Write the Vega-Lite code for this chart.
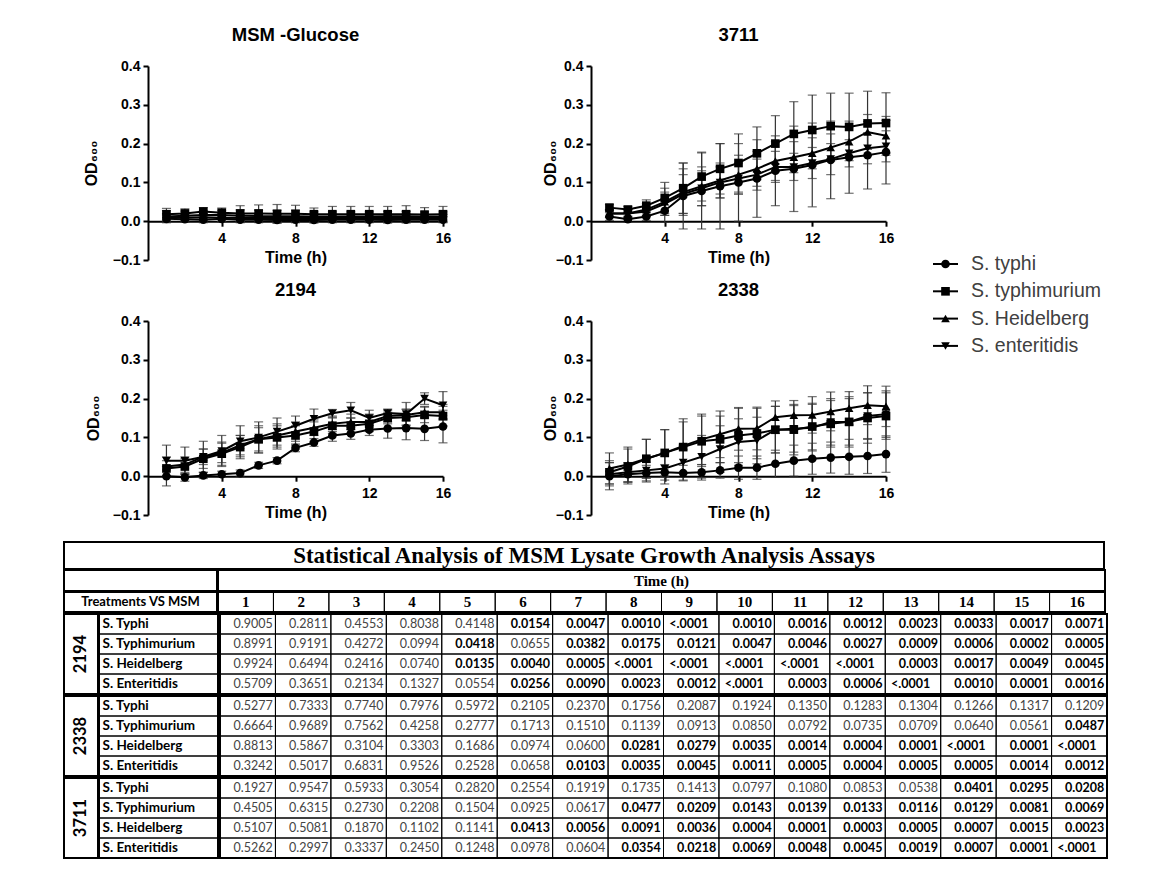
{
"$schema": "https://vega.github.io/schema/vega-lite/v6.json",
"padding": {"left": 63, "top": 25, "right": 5, "bottom": 5},
"background": "white",
"datasets": {
"od": [
{"pn":"G","sp":"S. typhi","t":1,"m":0.006,"e":0.01},{"pn":"G","sp":"S. typhi","t":2,"m":0.005,"e":0.008},{"pn":"G","sp":"S. typhi","t":3,"m":0.004,"e":0.008},{"pn":"G","sp":"S. typhi","t":4,"m":0.006,"e":0.008},{"pn":"G","sp":"S. typhi","t":5,"m":0.004,"e":0.008},{"pn":"G","sp":"S. typhi","t":6,"m":0.004,"e":0.008},{"pn":"G","sp":"S. typhi","t":7,"m":0.003,"e":0.008},{"pn":"G","sp":"S. typhi","t":8,"m":0.004,"e":0.008},{"pn":"G","sp":"S. typhi","t":9,"m":0.003,"e":0.008},{"pn":"G","sp":"S. typhi","t":10,"m":0.004,"e":0.008},{"pn":"G","sp":"S. typhi","t":11,"m":0.004,"e":0.008},{"pn":"G","sp":"S. typhi","t":12,"m":0.004,"e":0.008},{"pn":"G","sp":"S. typhi","t":13,"m":0.003,"e":0.008},{"pn":"G","sp":"S. typhi","t":14,"m":0.004,"e":0.008},{"pn":"G","sp":"S. typhi","t":15,"m":0.004,"e":0.008},{"pn":"G","sp":"S. typhi","t":16,"m":0.004,"e":0.008},
{"pn":"G","sp":"S. typhimurium","t":1,"m":0.018,"e":0.015},{"pn":"G","sp":"S. typhimurium","t":2,"m":0.02,"e":0.012},{"pn":"G","sp":"S. typhimurium","t":3,"m":0.025,"e":0.01},{"pn":"G","sp":"S. typhimurium","t":4,"m":0.022,"e":0.012},{"pn":"G","sp":"S. typhimurium","t":5,"m":0.02,"e":0.02},{"pn":"G","sp":"S. typhimurium","t":6,"m":0.02,"e":0.022},{"pn":"G","sp":"S. typhimurium","t":7,"m":0.019,"e":0.024},{"pn":"G","sp":"S. typhimurium","t":8,"m":0.019,"e":0.022},{"pn":"G","sp":"S. typhimurium","t":9,"m":0.018,"e":0.016},{"pn":"G","sp":"S. typhimurium","t":10,"m":0.018,"e":0.02},{"pn":"G","sp":"S. typhimurium","t":11,"m":0.018,"e":0.02},{"pn":"G","sp":"S. typhimurium","t":12,"m":0.018,"e":0.02},{"pn":"G","sp":"S. typhimurium","t":13,"m":0.018,"e":0.02},{"pn":"G","sp":"S. typhimurium","t":14,"m":0.018,"e":0.022},{"pn":"G","sp":"S. typhimurium","t":15,"m":0.017,"e":0.018},{"pn":"G","sp":"S. typhimurium","t":16,"m":0.018,"e":0.02},
{"pn":"G","sp":"S. Heidelberg","t":1,"m":0.012,"e":0.015},{"pn":"G","sp":"S. Heidelberg","t":2,"m":0.014,"e":0.012},{"pn":"G","sp":"S. Heidelberg","t":3,"m":0.016,"e":0.012},{"pn":"G","sp":"S. Heidelberg","t":4,"m":0.016,"e":0.012},{"pn":"G","sp":"S. Heidelberg","t":5,"m":0.014,"e":0.015},{"pn":"G","sp":"S. Heidelberg","t":6,"m":0.013,"e":0.015},{"pn":"G","sp":"S. Heidelberg","t":7,"m":0.013,"e":0.015},{"pn":"G","sp":"S. Heidelberg","t":8,"m":0.013,"e":0.015},{"pn":"G","sp":"S. Heidelberg","t":9,"m":0.012,"e":0.012},{"pn":"G","sp":"S. Heidelberg","t":10,"m":0.012,"e":0.012},{"pn":"G","sp":"S. Heidelberg","t":11,"m":0.012,"e":0.012},{"pn":"G","sp":"S. Heidelberg","t":12,"m":0.012,"e":0.012},{"pn":"G","sp":"S. Heidelberg","t":13,"m":0.013,"e":0.012},{"pn":"G","sp":"S. Heidelberg","t":14,"m":0.013,"e":0.012},{"pn":"G","sp":"S. Heidelberg","t":15,"m":0.012,"e":0.012},{"pn":"G","sp":"S. Heidelberg","t":16,"m":0.012,"e":0.012},
{"pn":"G","sp":"S. enteritidis","t":1,"m":0.01,"e":0.01},{"pn":"G","sp":"S. enteritidis","t":2,"m":0.009,"e":0.01},{"pn":"G","sp":"S. enteritidis","t":3,"m":0.01,"e":0.01},{"pn":"G","sp":"S. enteritidis","t":4,"m":0.009,"e":0.01},{"pn":"G","sp":"S. enteritidis","t":5,"m":0.008,"e":0.01},{"pn":"G","sp":"S. enteritidis","t":6,"m":0.008,"e":0.01},{"pn":"G","sp":"S. enteritidis","t":7,"m":0.008,"e":0.01},{"pn":"G","sp":"S. enteritidis","t":8,"m":0.008,"e":0.01},{"pn":"G","sp":"S. enteritidis","t":9,"m":0.008,"e":0.01},{"pn":"G","sp":"S. enteritidis","t":10,"m":0.008,"e":0.01},{"pn":"G","sp":"S. enteritidis","t":11,"m":0.008,"e":0.01},{"pn":"G","sp":"S. enteritidis","t":12,"m":0.008,"e":0.01},{"pn":"G","sp":"S. enteritidis","t":13,"m":0.008,"e":0.01},{"pn":"G","sp":"S. enteritidis","t":14,"m":0.008,"e":0.01},{"pn":"G","sp":"S. enteritidis","t":15,"m":0.008,"e":0.01},{"pn":"G","sp":"S. enteritidis","t":16,"m":0.008,"e":0.01},
{"pn":"3711","sp":"S. typhi","t":1,"m":0.012,"e":0.01},{"pn":"3711","sp":"S. typhi","t":2,"m":0.005,"e":0.008},{"pn":"3711","sp":"S. typhi","t":3,"m":0.012,"e":0.01},{"pn":"3711","sp":"S. typhi","t":4,"m":0.027,"e":0.03},{"pn":"3711","sp":"S. typhi","t":5,"m":0.065,"e":0.085},{"pn":"3711","sp":"S. typhi","t":6,"m":0.078,"e":0.098},{"pn":"3711","sp":"S. typhi","t":7,"m":0.09,"e":0.11},{"pn":"3711","sp":"S. typhi","t":8,"m":0.1,"e":0.1},{"pn":"3711","sp":"S. typhi","t":9,"m":0.11,"e":0.1},{"pn":"3711","sp":"S. typhi","t":10,"m":0.13,"e":0.09},{"pn":"3711","sp":"S. typhi","t":11,"m":0.135,"e":0.11},{"pn":"3711","sp":"S. typhi","t":12,"m":0.145,"e":0.108},{"pn":"3711","sp":"S. typhi","t":13,"m":0.158,"e":0.1},{"pn":"3711","sp":"S. typhi","t":14,"m":0.165,"e":0.093},{"pn":"3711","sp":"S. typhi","t":15,"m":0.17,"e":0.087},{"pn":"3711","sp":"S. typhi","t":16,"m":0.178,"e":0.082},
{"pn":"3711","sp":"S. typhimurium","t":1,"m":0.035,"e":0.008},{"pn":"3711","sp":"S. typhimurium","t":2,"m":0.03,"e":0.008},{"pn":"3711","sp":"S. typhimurium","t":3,"m":0.04,"e":0.015},{"pn":"3711","sp":"S. typhimurium","t":4,"m":0.06,"e":0.04},{"pn":"3711","sp":"S. typhimurium","t":5,"m":0.085,"e":0.065},{"pn":"3711","sp":"S. typhimurium","t":6,"m":0.115,"e":0.063},{"pn":"3711","sp":"S. typhimurium","t":7,"m":0.135,"e":0.065},{"pn":"3711","sp":"S. typhimurium","t":8,"m":0.15,"e":0.075},{"pn":"3711","sp":"S. typhimurium","t":9,"m":0.175,"e":0.068},{"pn":"3711","sp":"S. typhimurium","t":10,"m":0.2,"e":0.072},{"pn":"3711","sp":"S. typhimurium","t":11,"m":0.225,"e":0.083},{"pn":"3711","sp":"S. typhimurium","t":12,"m":0.235,"e":0.09},{"pn":"3711","sp":"S. typhimurium","t":13,"m":0.245,"e":0.085},{"pn":"3711","sp":"S. typhimurium","t":14,"m":0.243,"e":0.087},{"pn":"3711","sp":"S. typhimurium","t":15,"m":0.252,"e":0.083},{"pn":"3711","sp":"S. typhimurium","t":16,"m":0.253,"e":0.078},
{"pn":"3711","sp":"S. Heidelberg","t":1,"m":0.02,"e":0.01},{"pn":"3711","sp":"S. Heidelberg","t":2,"m":0.02,"e":0.01},{"pn":"3711","sp":"S. Heidelberg","t":3,"m":0.03,"e":0.015},{"pn":"3711","sp":"S. Heidelberg","t":4,"m":0.05,"e":0.035},{"pn":"3711","sp":"S. Heidelberg","t":5,"m":0.075,"e":0.06},{"pn":"3711","sp":"S. Heidelberg","t":6,"m":0.09,"e":0.05},{"pn":"3711","sp":"S. Heidelberg","t":7,"m":0.105,"e":0.045},{"pn":"3711","sp":"S. Heidelberg","t":8,"m":0.12,"e":0.05},{"pn":"3711","sp":"S. Heidelberg","t":9,"m":0.135,"e":0.045},{"pn":"3711","sp":"S. Heidelberg","t":10,"m":0.155,"e":0.05},{"pn":"3711","sp":"S. Heidelberg","t":11,"m":0.165,"e":0.04},{"pn":"3711","sp":"S. Heidelberg","t":12,"m":0.175,"e":0.04},{"pn":"3711","sp":"S. Heidelberg","t":13,"m":0.19,"e":0.035},{"pn":"3711","sp":"S. Heidelberg","t":14,"m":0.205,"e":0.04},{"pn":"3711","sp":"S. Heidelberg","t":15,"m":0.23,"e":0.045},{"pn":"3711","sp":"S. Heidelberg","t":16,"m":0.22,"e":0.05},
{"pn":"3711","sp":"S. enteritidis","t":1,"m":0.02,"e":0.01},{"pn":"3711","sp":"S. enteritidis","t":2,"m":0.02,"e":0.01},{"pn":"3711","sp":"S. enteritidis","t":3,"m":0.025,"e":0.012},{"pn":"3711","sp":"S. enteritidis","t":4,"m":0.045,"e":0.03},{"pn":"3711","sp":"S. enteritidis","t":5,"m":0.07,"e":0.05},{"pn":"3711","sp":"S. enteritidis","t":6,"m":0.085,"e":0.045},{"pn":"3711","sp":"S. enteritidis","t":7,"m":0.1,"e":0.04},{"pn":"3711","sp":"S. enteritidis","t":8,"m":0.11,"e":0.04},{"pn":"3711","sp":"S. enteritidis","t":9,"m":0.12,"e":0.04},{"pn":"3711","sp":"S. enteritidis","t":10,"m":0.14,"e":0.04},{"pn":"3711","sp":"S. enteritidis","t":11,"m":0.14,"e":0.035},{"pn":"3711","sp":"S. enteritidis","t":12,"m":0.15,"e":0.04},{"pn":"3711","sp":"S. enteritidis","t":13,"m":0.16,"e":0.04},{"pn":"3711","sp":"S. enteritidis","t":14,"m":0.175,"e":0.035},{"pn":"3711","sp":"S. enteritidis","t":15,"m":0.188,"e":0.04},{"pn":"3711","sp":"S. enteritidis","t":16,"m":0.193,"e":0.04},
{"pn":"2194","sp":"S. typhi","t":1,"m":0.0,"e":0.025},{"pn":"2194","sp":"S. typhi","t":2,"m":-0.003,"e":0.01},{"pn":"2194","sp":"S. typhi","t":3,"m":0.002,"e":0.008},{"pn":"2194","sp":"S. typhi","t":4,"m":0.005,"e":0.008},{"pn":"2194","sp":"S. typhi","t":5,"m":0.008,"e":0.008},{"pn":"2194","sp":"S. typhi","t":6,"m":0.028,"e":0.008},{"pn":"2194","sp":"S. typhi","t":7,"m":0.04,"e":0.008},{"pn":"2194","sp":"S. typhi","t":8,"m":0.073,"e":0.01},{"pn":"2194","sp":"S. typhi","t":9,"m":0.087,"e":0.01},{"pn":"2194","sp":"S. typhi","t":10,"m":0.105,"e":0.015},{"pn":"2194","sp":"S. typhi","t":11,"m":0.11,"e":0.015},{"pn":"2194","sp":"S. typhi","t":12,"m":0.12,"e":0.015},{"pn":"2194","sp":"S. typhi","t":13,"m":0.123,"e":0.025},{"pn":"2194","sp":"S. typhi","t":14,"m":0.124,"e":0.03},{"pn":"2194","sp":"S. typhi","t":15,"m":0.122,"e":0.03},{"pn":"2194","sp":"S. typhi","t":16,"m":0.128,"e":0.042},
{"pn":"2194","sp":"S. typhimurium","t":1,"m":0.02,"e":0.02},{"pn":"2194","sp":"S. typhimurium","t":2,"m":0.025,"e":0.02},{"pn":"2194","sp":"S. typhimurium","t":3,"m":0.045,"e":0.025},{"pn":"2194","sp":"S. typhimurium","t":4,"m":0.058,"e":0.03},{"pn":"2194","sp":"S. typhimurium","t":5,"m":0.075,"e":0.03},{"pn":"2194","sp":"S. typhimurium","t":6,"m":0.095,"e":0.035},{"pn":"2194","sp":"S. typhimurium","t":7,"m":0.1,"e":0.03},{"pn":"2194","sp":"S. typhimurium","t":8,"m":0.105,"e":0.025},{"pn":"2194","sp":"S. typhimurium","t":9,"m":0.115,"e":0.025},{"pn":"2194","sp":"S. typhimurium","t":10,"m":0.13,"e":0.02},{"pn":"2194","sp":"S. typhimurium","t":11,"m":0.13,"e":0.02},{"pn":"2194","sp":"S. typhimurium","t":12,"m":0.135,"e":0.02},{"pn":"2194","sp":"S. typhimurium","t":13,"m":0.15,"e":0.015},{"pn":"2194","sp":"S. typhimurium","t":14,"m":0.152,"e":0.02},{"pn":"2194","sp":"S. typhimurium","t":15,"m":0.158,"e":0.02},{"pn":"2194","sp":"S. typhimurium","t":16,"m":0.155,"e":0.025},
{"pn":"2194","sp":"S. Heidelberg","t":1,"m":0.025,"e":0.025},{"pn":"2194","sp":"S. Heidelberg","t":2,"m":0.03,"e":0.02},{"pn":"2194","sp":"S. Heidelberg","t":3,"m":0.05,"e":0.02},{"pn":"2194","sp":"S. Heidelberg","t":4,"m":0.06,"e":0.025},{"pn":"2194","sp":"S. Heidelberg","t":5,"m":0.08,"e":0.025},{"pn":"2194","sp":"S. Heidelberg","t":6,"m":0.095,"e":0.03},{"pn":"2194","sp":"S. Heidelberg","t":7,"m":0.105,"e":0.03},{"pn":"2194","sp":"S. Heidelberg","t":8,"m":0.115,"e":0.025},{"pn":"2194","sp":"S. Heidelberg","t":9,"m":0.125,"e":0.02},{"pn":"2194","sp":"S. Heidelberg","t":10,"m":0.135,"e":0.02},{"pn":"2194","sp":"S. Heidelberg","t":11,"m":0.14,"e":0.02},{"pn":"2194","sp":"S. Heidelberg","t":12,"m":0.14,"e":0.02},{"pn":"2194","sp":"S. Heidelberg","t":13,"m":0.155,"e":0.015},{"pn":"2194","sp":"S. Heidelberg","t":14,"m":0.158,"e":0.015},{"pn":"2194","sp":"S. Heidelberg","t":15,"m":0.165,"e":0.015},{"pn":"2194","sp":"S. Heidelberg","t":16,"m":0.165,"e":0.02},
{"pn":"2194","sp":"S. enteritidis","t":1,"m":0.04,"e":0.04},{"pn":"2194","sp":"S. enteritidis","t":2,"m":0.04,"e":0.035},{"pn":"2194","sp":"S. enteritidis","t":3,"m":0.05,"e":0.04},{"pn":"2194","sp":"S. enteritidis","t":4,"m":0.065,"e":0.04},{"pn":"2194","sp":"S. enteritidis","t":5,"m":0.09,"e":0.04},{"pn":"2194","sp":"S. enteritidis","t":6,"m":0.1,"e":0.04},{"pn":"2194","sp":"S. enteritidis","t":7,"m":0.115,"e":0.035},{"pn":"2194","sp":"S. enteritidis","t":8,"m":0.13,"e":0.025},{"pn":"2194","sp":"S. enteritidis","t":9,"m":0.148,"e":0.025},{"pn":"2194","sp":"S. enteritidis","t":10,"m":0.162,"e":0.01},{"pn":"2194","sp":"S. enteritidis","t":11,"m":0.17,"e":0.02},{"pn":"2194","sp":"S. enteritidis","t":12,"m":0.15,"e":0.02},{"pn":"2194","sp":"S. enteritidis","t":13,"m":0.163,"e":0.01},{"pn":"2194","sp":"S. enteritidis","t":14,"m":0.16,"e":0.03},{"pn":"2194","sp":"S. enteritidis","t":15,"m":0.2,"e":0.015},{"pn":"2194","sp":"S. enteritidis","t":16,"m":0.183,"e":0.035},
{"pn":"2338","sp":"S. typhi","t":1,"m":0.0,"e":0.035},{"pn":"2338","sp":"S. typhi","t":2,"m":0.005,"e":0.02},{"pn":"2338","sp":"S. typhi","t":3,"m":0.008,"e":0.02},{"pn":"2338","sp":"S. typhi","t":4,"m":0.01,"e":0.02},{"pn":"2338","sp":"S. typhi","t":5,"m":0.008,"e":0.02},{"pn":"2338","sp":"S. typhi","t":6,"m":0.01,"e":0.02},{"pn":"2338","sp":"S. typhi","t":7,"m":0.015,"e":0.02},{"pn":"2338","sp":"S. typhi","t":8,"m":0.022,"e":0.03},{"pn":"2338","sp":"S. typhi","t":9,"m":0.022,"e":0.03},{"pn":"2338","sp":"S. typhi","t":10,"m":0.032,"e":0.035},{"pn":"2338","sp":"S. typhi","t":11,"m":0.04,"e":0.04},{"pn":"2338","sp":"S. typhi","t":12,"m":0.045,"e":0.04},{"pn":"2338","sp":"S. typhi","t":13,"m":0.048,"e":0.04},{"pn":"2338","sp":"S. typhi","t":14,"m":0.05,"e":0.045},{"pn":"2338","sp":"S. typhi","t":15,"m":0.052,"e":0.045},{"pn":"2338","sp":"S. typhi","t":16,"m":0.057,"e":0.047},
{"pn":"2338","sp":"S. typhimurium","t":1,"m":0.01,"e":0.03},{"pn":"2338","sp":"S. typhimurium","t":2,"m":0.025,"e":0.045},{"pn":"2338","sp":"S. typhimurium","t":3,"m":0.045,"e":0.05},{"pn":"2338","sp":"S. typhimurium","t":4,"m":0.06,"e":0.06},{"pn":"2338","sp":"S. typhimurium","t":5,"m":0.075,"e":0.065},{"pn":"2338","sp":"S. typhimurium","t":6,"m":0.09,"e":0.065},{"pn":"2338","sp":"S. typhimurium","t":7,"m":0.095,"e":0.06},{"pn":"2338","sp":"S. typhimurium","t":8,"m":0.105,"e":0.07},{"pn":"2338","sp":"S. typhimurium","t":9,"m":0.11,"e":0.065},{"pn":"2338","sp":"S. typhimurium","t":10,"m":0.12,"e":0.06},{"pn":"2338","sp":"S. typhimurium","t":11,"m":0.12,"e":0.065},{"pn":"2338","sp":"S. typhimurium","t":12,"m":0.128,"e":0.06},{"pn":"2338","sp":"S. typhimurium","t":13,"m":0.135,"e":0.06},{"pn":"2338","sp":"S. typhimurium","t":14,"m":0.14,"e":0.065},{"pn":"2338","sp":"S. typhimurium","t":15,"m":0.15,"e":0.065},{"pn":"2338","sp":"S. typhimurium","t":16,"m":0.155,"e":0.06},
{"pn":"2338","sp":"S. Heidelberg","t":1,"m":0.02,"e":0.04},{"pn":"2338","sp":"S. Heidelberg","t":2,"m":0.03,"e":0.045},{"pn":"2338","sp":"S. Heidelberg","t":3,"m":0.045,"e":0.05},{"pn":"2338","sp":"S. Heidelberg","t":4,"m":0.06,"e":0.06},{"pn":"2338","sp":"S. Heidelberg","t":5,"m":0.078,"e":0.07},{"pn":"2338","sp":"S. Heidelberg","t":6,"m":0.095,"e":0.065},{"pn":"2338","sp":"S. Heidelberg","t":7,"m":0.108,"e":0.06},{"pn":"2338","sp":"S. Heidelberg","t":8,"m":0.122,"e":0.055},{"pn":"2338","sp":"S. Heidelberg","t":9,"m":0.123,"e":0.055},{"pn":"2338","sp":"S. Heidelberg","t":10,"m":0.152,"e":0.042},{"pn":"2338","sp":"S. Heidelberg","t":11,"m":0.157,"e":0.038},{"pn":"2338","sp":"S. Heidelberg","t":12,"m":0.158,"e":0.047},{"pn":"2338","sp":"S. Heidelberg","t":13,"m":0.167,"e":0.05},{"pn":"2338","sp":"S. Heidelberg","t":14,"m":0.175,"e":0.043},{"pn":"2338","sp":"S. Heidelberg","t":15,"m":0.183,"e":0.05},{"pn":"2338","sp":"S. Heidelberg","t":16,"m":0.18,"e":0.052},
{"pn":"2338","sp":"S. enteritidis","t":1,"m":0.005,"e":0.03},{"pn":"2338","sp":"S. enteritidis","t":2,"m":0.01,"e":0.025},{"pn":"2338","sp":"S. enteritidis","t":3,"m":0.015,"e":0.03},{"pn":"2338","sp":"S. enteritidis","t":4,"m":0.02,"e":0.04},{"pn":"2338","sp":"S. enteritidis","t":5,"m":0.035,"e":0.045},{"pn":"2338","sp":"S. enteritidis","t":6,"m":0.05,"e":0.055},{"pn":"2338","sp":"S. enteritidis","t":7,"m":0.07,"e":0.06},{"pn":"2338","sp":"S. enteritidis","t":8,"m":0.088,"e":0.06},{"pn":"2338","sp":"S. enteritidis","t":9,"m":0.092,"e":0.06},{"pn":"2338","sp":"S. enteritidis","t":10,"m":0.12,"e":0.06},{"pn":"2338","sp":"S. enteritidis","t":11,"m":0.122,"e":0.06},{"pn":"2338","sp":"S. enteritidis","t":12,"m":0.125,"e":0.06},{"pn":"2338","sp":"S. enteritidis","t":13,"m":0.14,"e":0.06},{"pn":"2338","sp":"S. enteritidis","t":14,"m":0.14,"e":0.06},{"pn":"2338","sp":"S. enteritidis","t":15,"m":0.155,"e":0.06},{"pn":"2338","sp":"S. enteritidis","t":16,"m":0.16,"e":0.06}
],
"pv": [
{"g":"2194","s":"S. Typhi","t":1,"p":"0.9005"},{"g":"2194","s":"S. Typhi","t":2,"p":"0.2811"},{"g":"2194","s":"S. Typhi","t":3,"p":"0.4553"},{"g":"2194","s":"S. Typhi","t":4,"p":"0.8038"},{"g":"2194","s":"S. Typhi","t":5,"p":"0.4148"},{"g":"2194","s":"S. Typhi","t":6,"p":"0.0154"},{"g":"2194","s":"S. Typhi","t":7,"p":"0.0047"},{"g":"2194","s":"S. Typhi","t":8,"p":"0.0010"},{"g":"2194","s":"S. Typhi","t":9,"p":"<.0001"},{"g":"2194","s":"S. Typhi","t":10,"p":"0.0010"},{"g":"2194","s":"S. Typhi","t":11,"p":"0.0016"},{"g":"2194","s":"S. Typhi","t":12,"p":"0.0012"},{"g":"2194","s":"S. Typhi","t":13,"p":"0.0023"},{"g":"2194","s":"S. Typhi","t":14,"p":"0.0033"},{"g":"2194","s":"S. Typhi","t":15,"p":"0.0017"},{"g":"2194","s":"S. Typhi","t":16,"p":"0.0071"},
{"g":"2194","s":"S. Typhimurium","t":1,"p":"0.8991"},{"g":"2194","s":"S. Typhimurium","t":2,"p":"0.9191"},{"g":"2194","s":"S. Typhimurium","t":3,"p":"0.4272"},{"g":"2194","s":"S. Typhimurium","t":4,"p":"0.0994"},{"g":"2194","s":"S. Typhimurium","t":5,"p":"0.0418"},{"g":"2194","s":"S. Typhimurium","t":6,"p":"0.0655"},{"g":"2194","s":"S. Typhimurium","t":7,"p":"0.0382"},{"g":"2194","s":"S. Typhimurium","t":8,"p":"0.0175"},{"g":"2194","s":"S. Typhimurium","t":9,"p":"0.0121"},{"g":"2194","s":"S. Typhimurium","t":10,"p":"0.0047"},{"g":"2194","s":"S. Typhimurium","t":11,"p":"0.0046"},{"g":"2194","s":"S. Typhimurium","t":12,"p":"0.0027"},{"g":"2194","s":"S. Typhimurium","t":13,"p":"0.0009"},{"g":"2194","s":"S. Typhimurium","t":14,"p":"0.0006"},{"g":"2194","s":"S. Typhimurium","t":15,"p":"0.0002"},{"g":"2194","s":"S. Typhimurium","t":16,"p":"0.0005"},
{"g":"2194","s":"S. Heidelberg","t":1,"p":"0.9924"},{"g":"2194","s":"S. Heidelberg","t":2,"p":"0.6494"},{"g":"2194","s":"S. Heidelberg","t":3,"p":"0.2416"},{"g":"2194","s":"S. Heidelberg","t":4,"p":"0.0740"},{"g":"2194","s":"S. Heidelberg","t":5,"p":"0.0135"},{"g":"2194","s":"S. Heidelberg","t":6,"p":"0.0040"},{"g":"2194","s":"S. Heidelberg","t":7,"p":"0.0005"},{"g":"2194","s":"S. Heidelberg","t":8,"p":"<.0001"},{"g":"2194","s":"S. Heidelberg","t":9,"p":"<.0001"},{"g":"2194","s":"S. Heidelberg","t":10,"p":"<.0001"},{"g":"2194","s":"S. Heidelberg","t":11,"p":"<.0001"},{"g":"2194","s":"S. Heidelberg","t":12,"p":"<.0001"},{"g":"2194","s":"S. Heidelberg","t":13,"p":"0.0003"},{"g":"2194","s":"S. Heidelberg","t":14,"p":"0.0017"},{"g":"2194","s":"S. Heidelberg","t":15,"p":"0.0049"},{"g":"2194","s":"S. Heidelberg","t":16,"p":"0.0045"},
{"g":"2194","s":"S. Enteritidis","t":1,"p":"0.5709"},{"g":"2194","s":"S. Enteritidis","t":2,"p":"0.3651"},{"g":"2194","s":"S. Enteritidis","t":3,"p":"0.2134"},{"g":"2194","s":"S. Enteritidis","t":4,"p":"0.1327"},{"g":"2194","s":"S. Enteritidis","t":5,"p":"0.0554"},{"g":"2194","s":"S. Enteritidis","t":6,"p":"0.0256"},{"g":"2194","s":"S. Enteritidis","t":7,"p":"0.0090"},{"g":"2194","s":"S. Enteritidis","t":8,"p":"0.0023"},{"g":"2194","s":"S. Enteritidis","t":9,"p":"0.0012"},{"g":"2194","s":"S. Enteritidis","t":10,"p":"<.0001"},{"g":"2194","s":"S. Enteritidis","t":11,"p":"0.0003"},{"g":"2194","s":"S. Enteritidis","t":12,"p":"0.0006"},{"g":"2194","s":"S. Enteritidis","t":13,"p":"<.0001"},{"g":"2194","s":"S. Enteritidis","t":14,"p":"0.0010"},{"g":"2194","s":"S. Enteritidis","t":15,"p":"0.0001"},{"g":"2194","s":"S. Enteritidis","t":16,"p":"0.0016"},
{"g":"2338","s":"S. Typhi","t":1,"p":"0.5277"},{"g":"2338","s":"S. Typhi","t":2,"p":"0.7333"},{"g":"2338","s":"S. Typhi","t":3,"p":"0.7740"},{"g":"2338","s":"S. Typhi","t":4,"p":"0.7976"},{"g":"2338","s":"S. Typhi","t":5,"p":"0.5972"},{"g":"2338","s":"S. Typhi","t":6,"p":"0.2105"},{"g":"2338","s":"S. Typhi","t":7,"p":"0.2370"},{"g":"2338","s":"S. Typhi","t":8,"p":"0.1756"},{"g":"2338","s":"S. Typhi","t":9,"p":"0.2087"},{"g":"2338","s":"S. Typhi","t":10,"p":"0.1924"},{"g":"2338","s":"S. Typhi","t":11,"p":"0.1350"},{"g":"2338","s":"S. Typhi","t":12,"p":"0.1283"},{"g":"2338","s":"S. Typhi","t":13,"p":"0.1304"},{"g":"2338","s":"S. Typhi","t":14,"p":"0.1266"},{"g":"2338","s":"S. Typhi","t":15,"p":"0.1317"},{"g":"2338","s":"S. Typhi","t":16,"p":"0.1209"},
{"g":"2338","s":"S. Typhimurium","t":1,"p":"0.6664"},{"g":"2338","s":"S. Typhimurium","t":2,"p":"0.9689"},{"g":"2338","s":"S. Typhimurium","t":3,"p":"0.7562"},{"g":"2338","s":"S. Typhimurium","t":4,"p":"0.4258"},{"g":"2338","s":"S. Typhimurium","t":5,"p":"0.2777"},{"g":"2338","s":"S. Typhimurium","t":6,"p":"0.1713"},{"g":"2338","s":"S. Typhimurium","t":7,"p":"0.1510"},{"g":"2338","s":"S. Typhimurium","t":8,"p":"0.1139"},{"g":"2338","s":"S. Typhimurium","t":9,"p":"0.0913"},{"g":"2338","s":"S. Typhimurium","t":10,"p":"0.0850"},{"g":"2338","s":"S. Typhimurium","t":11,"p":"0.0792"},{"g":"2338","s":"S. Typhimurium","t":12,"p":"0.0735"},{"g":"2338","s":"S. Typhimurium","t":13,"p":"0.0709"},{"g":"2338","s":"S. Typhimurium","t":14,"p":"0.0640"},{"g":"2338","s":"S. Typhimurium","t":15,"p":"0.0561"},{"g":"2338","s":"S. Typhimurium","t":16,"p":"0.0487"},
{"g":"2338","s":"S. Heidelberg","t":1,"p":"0.8813"},{"g":"2338","s":"S. Heidelberg","t":2,"p":"0.5867"},{"g":"2338","s":"S. Heidelberg","t":3,"p":"0.3104"},{"g":"2338","s":"S. Heidelberg","t":4,"p":"0.3303"},{"g":"2338","s":"S. Heidelberg","t":5,"p":"0.1686"},{"g":"2338","s":"S. Heidelberg","t":6,"p":"0.0974"},{"g":"2338","s":"S. Heidelberg","t":7,"p":"0.0600"},{"g":"2338","s":"S. Heidelberg","t":8,"p":"0.0281"},{"g":"2338","s":"S. Heidelberg","t":9,"p":"0.0279"},{"g":"2338","s":"S. Heidelberg","t":10,"p":"0.0035"},{"g":"2338","s":"S. Heidelberg","t":11,"p":"0.0014"},{"g":"2338","s":"S. Heidelberg","t":12,"p":"0.0004"},{"g":"2338","s":"S. Heidelberg","t":13,"p":"0.0001"},{"g":"2338","s":"S. Heidelberg","t":14,"p":"<.0001"},{"g":"2338","s":"S. Heidelberg","t":15,"p":"0.0001"},{"g":"2338","s":"S. Heidelberg","t":16,"p":"<.0001"},
{"g":"2338","s":"S. Enteritidis","t":1,"p":"0.3242"},{"g":"2338","s":"S. Enteritidis","t":2,"p":"0.5017"},{"g":"2338","s":"S. Enteritidis","t":3,"p":"0.6831"},{"g":"2338","s":"S. Enteritidis","t":4,"p":"0.9526"},{"g":"2338","s":"S. Enteritidis","t":5,"p":"0.2528"},{"g":"2338","s":"S. Enteritidis","t":6,"p":"0.0658"},{"g":"2338","s":"S. Enteritidis","t":7,"p":"0.0103"},{"g":"2338","s":"S. Enteritidis","t":8,"p":"0.0035"},{"g":"2338","s":"S. Enteritidis","t":9,"p":"0.0045"},{"g":"2338","s":"S. Enteritidis","t":10,"p":"0.0011"},{"g":"2338","s":"S. Enteritidis","t":11,"p":"0.0005"},{"g":"2338","s":"S. Enteritidis","t":12,"p":"0.0004"},{"g":"2338","s":"S. Enteritidis","t":13,"p":"0.0005"},{"g":"2338","s":"S. Enteritidis","t":14,"p":"0.0005"},{"g":"2338","s":"S. Enteritidis","t":15,"p":"0.0014"},{"g":"2338","s":"S. Enteritidis","t":16,"p":"0.0012"},
{"g":"3711","s":"S. Typhi","t":1,"p":"0.1927"},{"g":"3711","s":"S. Typhi","t":2,"p":"0.9547"},{"g":"3711","s":"S. Typhi","t":3,"p":"0.5933"},{"g":"3711","s":"S. Typhi","t":4,"p":"0.3054"},{"g":"3711","s":"S. Typhi","t":5,"p":"0.2820"},{"g":"3711","s":"S. Typhi","t":6,"p":"0.2554"},{"g":"3711","s":"S. Typhi","t":7,"p":"0.1919"},{"g":"3711","s":"S. Typhi","t":8,"p":"0.1735"},{"g":"3711","s":"S. Typhi","t":9,"p":"0.1413"},{"g":"3711","s":"S. Typhi","t":10,"p":"0.0797"},{"g":"3711","s":"S. Typhi","t":11,"p":"0.1080"},{"g":"3711","s":"S. Typhi","t":12,"p":"0.0853"},{"g":"3711","s":"S. Typhi","t":13,"p":"0.0538"},{"g":"3711","s":"S. Typhi","t":14,"p":"0.0401"},{"g":"3711","s":"S. Typhi","t":15,"p":"0.0295"},{"g":"3711","s":"S. Typhi","t":16,"p":"0.0208"},
{"g":"3711","s":"S. Typhimurium","t":1,"p":"0.4505"},{"g":"3711","s":"S. Typhimurium","t":2,"p":"0.6315"},{"g":"3711","s":"S. Typhimurium","t":3,"p":"0.2730"},{"g":"3711","s":"S. Typhimurium","t":4,"p":"0.2208"},{"g":"3711","s":"S. Typhimurium","t":5,"p":"0.1504"},{"g":"3711","s":"S. Typhimurium","t":6,"p":"0.0925"},{"g":"3711","s":"S. Typhimurium","t":7,"p":"0.0617"},{"g":"3711","s":"S. Typhimurium","t":8,"p":"0.0477"},{"g":"3711","s":"S. Typhimurium","t":9,"p":"0.0209"},{"g":"3711","s":"S. Typhimurium","t":10,"p":"0.0143"},{"g":"3711","s":"S. Typhimurium","t":11,"p":"0.0139"},{"g":"3711","s":"S. Typhimurium","t":12,"p":"0.0133"},{"g":"3711","s":"S. Typhimurium","t":13,"p":"0.0116"},{"g":"3711","s":"S. Typhimurium","t":14,"p":"0.0129"},{"g":"3711","s":"S. Typhimurium","t":15,"p":"0.0081"},{"g":"3711","s":"S. Typhimurium","t":16,"p":"0.0069"},
{"g":"3711","s":"S. Heidelberg","t":1,"p":"0.5107"},{"g":"3711","s":"S. Heidelberg","t":2,"p":"0.5081"},{"g":"3711","s":"S. Heidelberg","t":3,"p":"0.1870"},{"g":"3711","s":"S. Heidelberg","t":4,"p":"0.1102"},{"g":"3711","s":"S. Heidelberg","t":5,"p":"0.1141"},{"g":"3711","s":"S. Heidelberg","t":6,"p":"0.0413"},{"g":"3711","s":"S. Heidelberg","t":7,"p":"0.0056"},{"g":"3711","s":"S. Heidelberg","t":8,"p":"0.0091"},{"g":"3711","s":"S. Heidelberg","t":9,"p":"0.0036"},{"g":"3711","s":"S. Heidelberg","t":10,"p":"0.0004"},{"g":"3711","s":"S. Heidelberg","t":11,"p":"0.0001"},{"g":"3711","s":"S. Heidelberg","t":12,"p":"0.0003"},{"g":"3711","s":"S. Heidelberg","t":13,"p":"0.0005"},{"g":"3711","s":"S. Heidelberg","t":14,"p":"0.0007"},{"g":"3711","s":"S. Heidelberg","t":15,"p":"0.0015"},{"g":"3711","s":"S. Heidelberg","t":16,"p":"0.0023"},
{"g":"3711","s":"S. Enteritidis","t":1,"p":"0.5262"},{"g":"3711","s":"S. Enteritidis","t":2,"p":"0.2997"},{"g":"3711","s":"S. Enteritidis","t":3,"p":"0.3337"},{"g":"3711","s":"S. Enteritidis","t":4,"p":"0.2450"},{"g":"3711","s":"S. Enteritidis","t":5,"p":"0.1248"},{"g":"3711","s":"S. Enteritidis","t":6,"p":"0.0978"},{"g":"3711","s":"S. Enteritidis","t":7,"p":"0.0604"},{"g":"3711","s":"S. Enteritidis","t":8,"p":"0.0354"},{"g":"3711","s":"S. Enteritidis","t":9,"p":"0.0218"},{"g":"3711","s":"S. Enteritidis","t":10,"p":"0.0069"},{"g":"3711","s":"S. Enteritidis","t":11,"p":"0.0048"},{"g":"3711","s":"S. Enteritidis","t":12,"p":"0.0045"},{"g":"3711","s":"S. Enteritidis","t":13,"p":"0.0019"},{"g":"3711","s":"S. Enteritidis","t":14,"p":"0.0007"},{"g":"3711","s":"S. Enteritidis","t":15,"p":"0.0001"},{"g":"3711","s":"S. Enteritidis","t":16,"p":"<.0001"}
]
},
"spacing": 19,
"vconcat": [
{"hconcat": [
{"width":1,"height":1,"data":{"values":[{"txt":""}]},"mark":{"type":"text"},"encoding":{"text":{"field":"txt"}}},
{"hconcat": [
{"concat": [
{"width":295,"height":194,"data":{"name":"od"},"transform":[{"filter":"datum.pn=='G'"}],"title":"MSM -Glucose",
"encoding":{"x":{"field":"t","type":"quantitative","scale":{"domain":[0,16],"nice":false,"zero":false},"axis":{"values":[4,8,12,16],"title":"Time (h)","offset":-38.8}},
"y":{"field":"m","type":"quantitative","scale":{"domain":[-0.1,0.4],"nice":false,"zero":false},"axis":{"values":[-0.1,0,0.1,0.2,0.3,0.4],"format":".1f","title":"OD₆₀₀","titleX":-57,"titleY":97,"titleAngle":270,"titleBaseline":"middle","titleAlign":"center","minExtent":83}}},
"layer":[
{"mark":{"type":"errorbar","ticks":true,"size":9,"thickness":1.2,"color":"#333"},"encoding":{"yError":{"field":"e"}}},
{"mark":{"type":"line","color":"black","strokeWidth":2},"encoding":{"detail":{"field":"sp"}}},
{"mark":{"type":"point","filled":true,"color":"black","size":75,"opacity":1},"encoding":{"shape":{"field":"sp","type":"nominal","scale":{"domain":["S. typhi","S. typhimurium","S. Heidelberg","S. enteritidis"],"range":["circle","square","triangle-up","triangle-down"]},"legend":null}}}]},
{"width":295,"height":194,"data":{"name":"od"},"transform":[{"filter":"datum.pn=='3711'"}],"title":"3711",
"encoding":{"x":{"field":"t","type":"quantitative","scale":{"domain":[0,16],"nice":false,"zero":false},"axis":{"values":[4,8,12,16],"title":"Time (h)","offset":-38.8}},
"y":{"field":"m","type":"quantitative","scale":{"domain":[-0.1,0.4],"nice":false,"zero":false},"axis":{"values":[-0.1,0,0.1,0.2,0.3,0.4],"format":".1f","title":"OD₆₀₀","titleX":-41,"titleY":97,"titleAngle":270,"titleBaseline":"middle","titleAlign":"center","minExtent":50}}},
"layer":[
{"mark":{"type":"errorbar","ticks":true,"size":9,"thickness":1.2,"color":"#333"},"encoding":{"yError":{"field":"e"}}},
{"mark":{"type":"line","color":"black","strokeWidth":2},"encoding":{"detail":{"field":"sp"}}},
{"mark":{"type":"point","filled":true,"color":"black","size":75,"opacity":1},"encoding":{"shape":{"field":"sp","type":"nominal","scale":{"domain":["S. typhi","S. typhimurium","S. Heidelberg","S. enteritidis"],"range":["circle","square","triangle-up","triangle-down"]},"legend":null}}}]},
{"width":295,"height":194,"data":{"name":"od"},"transform":[{"filter":"datum.pn=='2194'"}],"title":"2194",
"encoding":{"x":{"field":"t","type":"quantitative","scale":{"domain":[0,16],"nice":false,"zero":false},"axis":{"values":[4,8,12,16],"title":"Time (h)","offset":-38.8}},
"y":{"field":"m","type":"quantitative","scale":{"domain":[-0.1,0.4],"nice":false,"zero":false},"axis":{"values":[-0.1,0,0.1,0.2,0.3,0.4],"format":".1f","title":"OD₆₀₀","titleX":-55,"titleY":97,"titleAngle":270,"titleBaseline":"middle","titleAlign":"center","minExtent":83}}},
"layer":[
{"mark":{"type":"errorbar","ticks":true,"size":9,"thickness":1.2,"color":"#333"},"encoding":{"yError":{"field":"e"}}},
{"mark":{"type":"line","color":"black","strokeWidth":2},"encoding":{"detail":{"field":"sp"}}},
{"mark":{"type":"point","filled":true,"color":"black","size":75,"opacity":1},"encoding":{"shape":{"field":"sp","type":"nominal","scale":{"domain":["S. typhi","S. typhimurium","S. Heidelberg","S. enteritidis"],"range":["circle","square","triangle-up","triangle-down"]},"legend":null}}}]},
{"width":295,"height":194,"data":{"name":"od"},"transform":[{"filter":"datum.pn=='2338'"}],"title":"2338",
"encoding":{"x":{"field":"t","type":"quantitative","scale":{"domain":[0,16],"nice":false,"zero":false},"axis":{"values":[4,8,12,16],"title":"Time (h)","offset":-38.8}},
"y":{"field":"m","type":"quantitative","scale":{"domain":[-0.1,0.4],"nice":false,"zero":false},"axis":{"values":[-0.1,0,0.1,0.2,0.3,0.4],"format":".1f","title":"OD₆₀₀","titleX":-41,"titleY":97,"titleAngle":270,"titleBaseline":"middle","titleAlign":"center","minExtent":50}}},
"layer":[
{"mark":{"type":"errorbar","ticks":true,"size":9,"thickness":1.2,"color":"#333"},"encoding":{"yError":{"field":"e"}}},
{"mark":{"type":"line","color":"black","strokeWidth":2},"encoding":{"detail":{"field":"sp"}}},
{"mark":{"type":"point","filled":true,"color":"black","size":75,"opacity":1},"encoding":{"shape":{"field":"sp","type":"nominal","scale":{"domain":["S. typhi","S. typhimurium","S. Heidelberg","S. enteritidis"],"range":["circle","square","triangle-up","triangle-down"]},"legend":null}}}]}
], "columns": 2, "spacing": {"row": 61, "column": 148}, "bounds": "flush"},
{"width":25,"height":300,"data":{"values":[{"sp":"S. typhi","i":0},{"sp":"S. typhimurium","i":1},{"sp":"S. Heidelberg","i":2},{"sp":"S. enteritidis","i":3}]},
"encoding":{"y":{"field":"i","type":"quantitative","scale":{"domain":[-7.253,3.736],"reverse":true,"nice":false,"zero":false},"axis":null}},
"layer":[
{"mark":{"type":"rule","color":"black","strokeWidth":2},"encoding":{"x":{"datum":0,"type":"quantitative","scale":{"domain":[0,1],"nice":false,"zero":false},"axis":null},"x2":{"datum":1}}},
{"mark":{"type":"point","filled":true,"color":"black","size":75,"opacity":1},"encoding":{"x":{"datum":0.5,"type":"quantitative"},"shape":{"field":"sp","type":"nominal","scale":{"domain":["S. typhi","S. typhimurium","S. Heidelberg","S. enteritidis"],"range":["circle","square","triangle-up","triangle-down"]},"legend":null}}},
{"mark":{"type":"text","align":"left","dx":13,"font":"Liberation Sans","fontSize":19.5,"color":"#404040"},"encoding":{"x":{"datum":1,"type":"quantitative"},"text":{"field":"sp"}}}]}
], "spacing": 38}
], "spacing": 0},
{"vconcat": [
{"width":1040,"height":27,"view":{"stroke":"black","strokeWidth":2},"data":{"values":[{"txt":"Statistical Analysis of MSM Lysate Growth Analysis Assays"}]},"mark":{"type":"text","font":"Liberation Serif","fontWeight":"bold","fontSize":23,"color":"black"},"encoding":{"text":{"field":"txt"}}},
{"hconcat": [
{"width":153,"height":21,"view":{"stroke":"black","strokeWidth":2},"data":{"values":[{"txt":""}]},"mark":{"type":"text"},"encoding":{"text":{"field":"txt"}}},
{"width":887,"height":21,"view":{"stroke":"black","strokeWidth":2},"data":{"values":[{"txt":"Time (h)"}]},"mark":{"type":"text","font":"Liberation Serif","fontWeight":"bold","fontSize":15,"color":"black"},"encoding":{"text":{"field":"txt"}}}
], "spacing": -2},
{"hconcat": [
{"width":153,"height":20,"view":{"stroke":"black","strokeWidth":2},"data":{"values":[{"txt":"Treatments VS MSM"}]},"mark":{"type":"text","font":"Lato","fontWeight":"bold","fontSize":13,"color":"black"},"encoding":{"text":{"field":"txt"}}},
{"width":887,"height":20,"view":{"stroke":"black","strokeWidth":2},"data":{"name":"pv"},"transform":[{"filter":"datum.g=='2194' && datum.s=='S. Typhi'"}],
"encoding":{"x":{"field":"t","type":"ordinal","axis":null,"scale":{"paddingInner":0,"paddingOuter":0}}},
"layer":[{"mark":{"type":"rect","filled":false,"color":"black","strokeWidth":1}},{"mark":{"type":"text","font":"Liberation Serif","fontWeight":"bold","fontSize":15,"color":"black"},"encoding":{"text":{"field":"t"}}}]}
], "spacing": -2},
{"hconcat": [
{"width":34,"height":80,"view":{"stroke":"black","strokeWidth":2},"data":{"name":"pv"},"transform":[{"filter":"datum.g=='2194' && datum.t==1 && datum.s=='S. Typhi'"}],"mark":{"type":"text","angle":270,"font":"Lato","fontWeight":"bold","fontSize":16.5,"color":"black"},"encoding":{"text":{"field":"g"}}},
{"width":119,"height":80,"view":{"stroke":"black","strokeWidth":2},"data":{"name":"pv"},"transform":[{"filter":"datum.g=='2194' && datum.t==1"}],
"encoding":{"y":{"field":"s","type":"nominal","sort":["S. Typhi","S. Typhimurium","S. Heidelberg","S. Enteritidis"],"axis":null,"scale":{"paddingInner":0,"paddingOuter":0}}},
"layer":[{"mark":{"type":"rect","filled":false,"color":"black","strokeWidth":1}},{"mark":{"type":"text","align":"left","dx":-56,"font":"Lato","fontWeight":"bold","fontSize":13.5,"color":"black"},"encoding":{"text":{"field":"s"}}}]},
{"width":887,"height":80,"view":{"stroke":"black","strokeWidth":2},"data":{"name":"pv"},"transform":[{"filter":"datum.g=='2194'"}],
"encoding":{"x":{"field":"t","type":"ordinal","axis":null,"scale":{"paddingInner":0,"paddingOuter":0}},"y":{"field":"s","type":"nominal","sort":["S. Typhi","S. Typhimurium","S. Heidelberg","S. Enteritidis"],"axis":null,"scale":{"paddingInner":0,"paddingOuter":0}}},
"layer":[{"mark":{"type":"rect","filled":false,"color":"black","strokeWidth":1}},
{"transform":[{"filter":"datum.p!='<.0001' && toNumber(datum.p)>=0.05"}],"mark":{"type":"text","align":"right","dx":25,"font":"Lato","fontSize":12.5,"color":"#444"},"encoding":{"text":{"field":"p"}}},
{"transform":[{"filter":"datum.p!='<.0001' && toNumber(datum.p)<0.05"}],"mark":{"type":"text","align":"right","dx":25,"font":"Lato","fontWeight":"bold","fontSize":12.5,"color":"black"},"encoding":{"text":{"field":"p"}}},
{"transform":[{"filter":"datum.p=='<.0001'"}],"mark":{"type":"text","align":"left","dx":-22,"font":"Lato","fontWeight":"bold","fontSize":12.5,"color":"black"},"encoding":{"text":{"field":"p"}}}]}
], "spacing": -2},
{"hconcat": [
{"width":34,"height":80,"view":{"stroke":"black","strokeWidth":2},"data":{"name":"pv"},"transform":[{"filter":"datum.g=='2338' && datum.t==1 && datum.s=='S. Typhi'"}],"mark":{"type":"text","angle":270,"font":"Lato","fontWeight":"bold","fontSize":16.5,"color":"black"},"encoding":{"text":{"field":"g"}}},
{"width":119,"height":80,"view":{"stroke":"black","strokeWidth":2},"data":{"name":"pv"},"transform":[{"filter":"datum.g=='2338' && datum.t==1"}],
"encoding":{"y":{"field":"s","type":"nominal","sort":["S. Typhi","S. Typhimurium","S. Heidelberg","S. Enteritidis"],"axis":null,"scale":{"paddingInner":0,"paddingOuter":0}}},
"layer":[{"mark":{"type":"rect","filled":false,"color":"black","strokeWidth":1}},{"mark":{"type":"text","align":"left","dx":-56,"font":"Lato","fontWeight":"bold","fontSize":13.5,"color":"black"},"encoding":{"text":{"field":"s"}}}]},
{"width":887,"height":80,"view":{"stroke":"black","strokeWidth":2},"data":{"name":"pv"},"transform":[{"filter":"datum.g=='2338'"}],
"encoding":{"x":{"field":"t","type":"ordinal","axis":null,"scale":{"paddingInner":0,"paddingOuter":0}},"y":{"field":"s","type":"nominal","sort":["S. Typhi","S. Typhimurium","S. Heidelberg","S. Enteritidis"],"axis":null,"scale":{"paddingInner":0,"paddingOuter":0}}},
"layer":[{"mark":{"type":"rect","filled":false,"color":"black","strokeWidth":1}},
{"transform":[{"filter":"datum.p!='<.0001' && toNumber(datum.p)>=0.05"}],"mark":{"type":"text","align":"right","dx":25,"font":"Lato","fontSize":12.5,"color":"#444"},"encoding":{"text":{"field":"p"}}},
{"transform":[{"filter":"datum.p!='<.0001' && toNumber(datum.p)<0.05"}],"mark":{"type":"text","align":"right","dx":25,"font":"Lato","fontWeight":"bold","fontSize":12.5,"color":"black"},"encoding":{"text":{"field":"p"}}},
{"transform":[{"filter":"datum.p=='<.0001'"}],"mark":{"type":"text","align":"left","dx":-22,"font":"Lato","fontWeight":"bold","fontSize":12.5,"color":"black"},"encoding":{"text":{"field":"p"}}}]}
], "spacing": -2},
{"hconcat": [
{"width":34,"height":80,"view":{"stroke":"black","strokeWidth":2},"data":{"name":"pv"},"transform":[{"filter":"datum.g=='3711' && datum.t==1 && datum.s=='S. Typhi'"}],"mark":{"type":"text","angle":270,"font":"Lato","fontWeight":"bold","fontSize":16.5,"color":"black"},"encoding":{"text":{"field":"g"}}},
{"width":119,"height":80,"view":{"stroke":"black","strokeWidth":2},"data":{"name":"pv"},"transform":[{"filter":"datum.g=='3711' && datum.t==1"}],
"encoding":{"y":{"field":"s","type":"nominal","sort":["S. Typhi","S. Typhimurium","S. Heidelberg","S. Enteritidis"],"axis":null,"scale":{"paddingInner":0,"paddingOuter":0}}},
"layer":[{"mark":{"type":"rect","filled":false,"color":"black","strokeWidth":1}},{"mark":{"type":"text","align":"left","dx":-56,"font":"Lato","fontWeight":"bold","fontSize":13.5,"color":"black"},"encoding":{"text":{"field":"s"}}}]},
{"width":887,"height":80,"view":{"stroke":"black","strokeWidth":2},"data":{"name":"pv"},"transform":[{"filter":"datum.g=='3711'"}],
"encoding":{"x":{"field":"t","type":"ordinal","axis":null,"scale":{"paddingInner":0,"paddingOuter":0}},"y":{"field":"s","type":"nominal","sort":["S. Typhi","S. Typhimurium","S. Heidelberg","S. Enteritidis"],"axis":null,"scale":{"paddingInner":0,"paddingOuter":0}}},
"layer":[{"mark":{"type":"rect","filled":false,"color":"black","strokeWidth":1}},
{"transform":[{"filter":"datum.p!='<.0001' && toNumber(datum.p)>=0.05"}],"mark":{"type":"text","align":"right","dx":25,"font":"Lato","fontSize":12.5,"color":"#444"},"encoding":{"text":{"field":"p"}}},
{"transform":[{"filter":"datum.p!='<.0001' && toNumber(datum.p)<0.05"}],"mark":{"type":"text","align":"right","dx":25,"font":"Lato","fontWeight":"bold","fontSize":12.5,"color":"black"},"encoding":{"text":{"field":"p"}}},
{"transform":[{"filter":"datum.p=='<.0001'"}],"mark":{"type":"text","align":"left","dx":-22,"font":"Lato","fontWeight":"bold","fontSize":12.5,"color":"black"},"encoding":{"text":{"field":"p"}}}]}
], "spacing": -2}
], "spacing": -2}
],
"config": {
"view": {"stroke": null},
"font": "Liberation Sans",
"axis": {"domainColor": "black", "domainWidth": 2, "tickColor": "black", "tickWidth": 2, "tickSize": 5, "grid": false, "labelFont": "Liberation Sans", "labelFontWeight": "bold", "labelFontSize": 14, "labelColor": "black", "labelFlush": false, "labelOverlap": false, "labelPadding": 3, "titleFont": "Liberation Sans", "titleFontWeight": "bold", "titleFontSize": 16, "titleColor": "black"},
"axisX": {"labelPadding": 5, "titlePadding": 4},
"title": {"font": "Liberation Sans", "fontSize": 18.5, "fontWeight": "bold", "color": "black", "frame": "group", "offset": 15}
}
}
